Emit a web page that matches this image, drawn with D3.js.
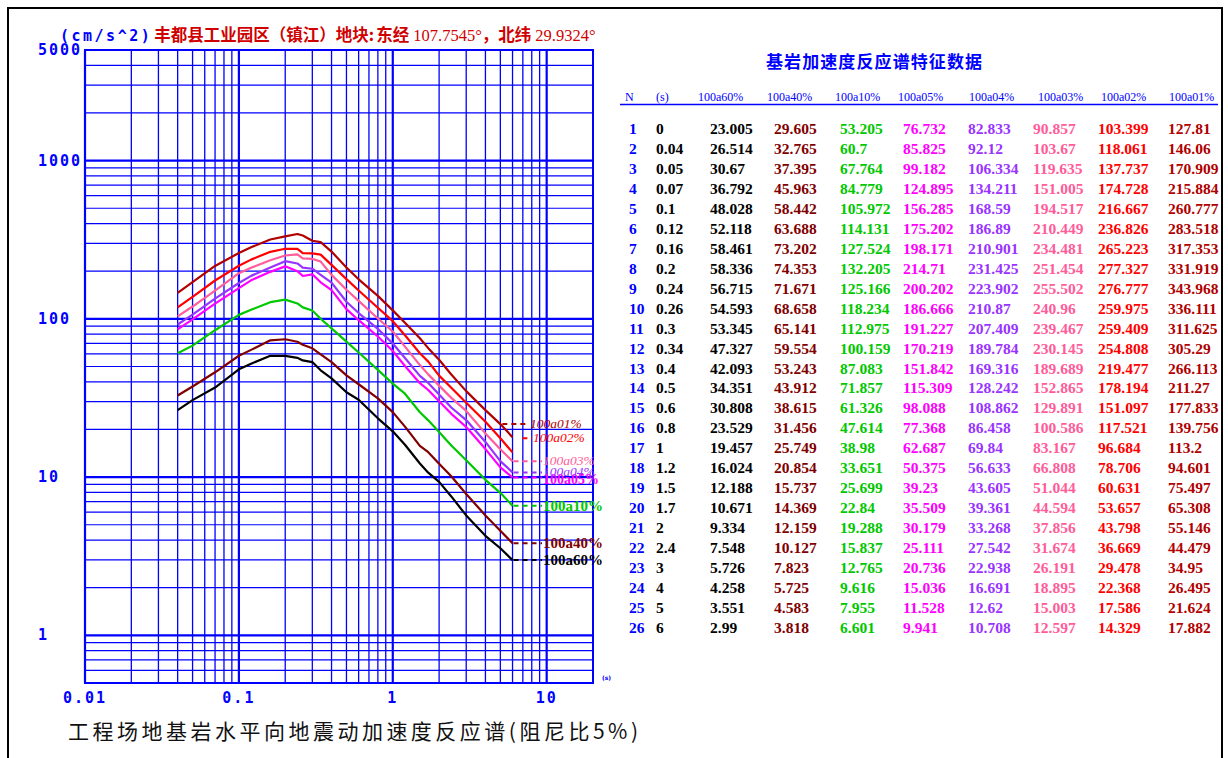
<!DOCTYPE html>
<html><head><meta charset="utf-8">
<script src="https://cdn.jsdelivr.net/npm/d3@7"></script>
<style>body{margin:0;background:#fff}svg{display:block}</style>
</head><body><svg id="c" width="1228" height="758"></svg>
<script>
// ---- data ----
const periodLabels = ["0","0.04","0.05","0.07","0.1","0.12","0.16","0.2","0.24","0.26","0.3","0.34","0.4","0.5","0.6","0.8","1","1.2","1.5","1.7","2","2.4","3","4","5","6"];
const periods = periodLabels.map(Number);
const seriesNames = ["100a60%","100a40%","100a10%","100a05%","100a04%","100a03%","100a02%","100a01%"];
const s60 = [23.005,26.514,30.67,36.792,48.028,52.118,58.461,58.336,56.715,54.593,53.345,47.327,42.093,34.351,30.808,23.529,19.457,16.024,12.188,10.671,9.334,7.548,5.726,4.258,3.551,2.99];
const s40 = [29.605,32.765,37.395,45.963,58.442,63.688,73.202,74.353,71.671,68.658,65.141,59.554,53.243,43.912,38.615,31.456,25.749,20.854,15.737,14.369,12.159,10.127,7.823,5.725,4.583,3.818];
const s10 = [53.205,60.7,67.764,84.779,105.972,114.131,127.524,132.205,125.166,118.234,112.975,100.159,87.083,71.857,61.326,47.614,38.98,33.651,25.699,22.84,19.288,15.837,12.765,9.616,7.955,6.601];
const s05 = [76.732,85.825,99.182,124.895,156.285,175.202,198.171,214.71,200.202,186.666,191.227,170.219,151.842,115.309,98.088,77.368,62.687,50.375,39.23,35.509,30.179,25.111,20.736,15.036,11.528,9.941];
const s04 = [82.833,92.12,106.334,134.211,168.59,186.89,210.901,231.425,223.902,210.87,207.409,189.784,169.316,128.242,108.862,86.458,69.84,56.633,43.605,39.361,33.268,27.542,22.938,16.691,12.62,10.708];
const s03 = [90.857,103.67,119.635,151.005,194.517,210.449,234.481,251.454,255.502,240.96,239.467,230.145,189.689,152.865,129.891,100.586,83.167,66.808,51.044,44.594,37.856,31.674,26.191,18.895,15.003,12.597];
const s02 = [103.399,118.061,137.737,174.728,216.667,236.826,265.223,277.327,276.777,259.975,259.409,254.808,219.477,178.194,151.097,117.521,96.684,78.706,60.631,53.657,43.798,36.669,29.478,22.368,17.586,14.329];
const s01 = [127.81,146.06,170.909,215.884,260.777,283.518,317.353,331.919,343.968,336.111,311.625,305.29,266.113,211.27,177.833,139.756,113.2,94.601,75.497,65.308,55.146,44.479,34.95,26.495,21.624,17.882];
const seriesValues = [s60,s40,s10,s05,s04,s03,s02,s01];
const seriesColors = ["#000000","#800000","#00c800","#ff00ff","#9933ff","#ff5c99","#ff0000","#b00000"];
const yTickLabels = ["5000","1000","100","10","1"];
const xTickLabels = ["0.01","0.1","1","10"];

// ---- layout ----
const svg = d3.select("#c");
svg.append("rect").attr("width",1228).attr("height",758).attr("fill","#fff");
svg.append("rect").attr("x",8).attr("y",8).attr("width",1214).attr("height",770)
  .attr("fill","none").attr("stroke","#000").attr("stroke-width",2);

const x = d3.scaleLog().domain([0.01,20]).range([85,593]);
const y = d3.scaleLog().domain([0.5,5000]).range([683,50]);
const blue = "#0000ff";
const g = svg.append("g");

// grid lines
const xGrid = [];
for (let k=-2;k<=1;k++) for (let m=1;m<=9;m++){ const v=m*Math.pow(10,k); if (v>=0.01 && v<=20) xGrid.push(v); }
xGrid.push(20);
const yGrid = [];
for (let k=-1;k<=3;k++) for (let m=1;m<=9;m++){ const v=m*Math.pow(10,k); if (v>=0.5 && v<=5000) yGrid.push(v); }
const isDecade = v => Math.abs(Math.log10(v)-Math.round(Math.log10(v)))<1e-9;
g.selectAll(".xg").data(xGrid).join("line")
  .attr("x1",d=>x(d)).attr("x2",d=>x(d)).attr("y1",y(5000)).attr("y2",y(0.5))
  .attr("stroke",blue).attr("stroke-width",d=>isDecade(d)?2.2:1.3);
g.selectAll(".yg").data(yGrid).join("line")
  .attr("y1",d=>y(d)).attr("y2",d=>y(d)).attr("x1",x(0.01)).attr("x2",x(20))
  .attr("stroke",blue).attr("stroke-width",d=>isDecade(d)?2.2:1.2);
g.append("rect").attr("x",x(0.01)).attr("y",y(5000)).attr("width",x(20)-x(0.01)).attr("height",y(0.5)-y(5000))
  .attr("fill","none").attr("stroke",blue).attr("stroke-width",2);

// axis labels
g.selectAll(".yl").data(yTickLabels).join("text")
  .attr("x",38).attr("y",d=>y(+d)+5).text(d=>d)
  .attr("font-family","DejaVu Sans Mono").attr("font-weight","bold").attr("font-size",15)
  .attr("letter-spacing",2).attr("fill",blue);
g.selectAll(".xl").data(xTickLabels).join("text")
  .attr("x",d=>x(+d)).attr("y",703).attr("text-anchor","middle").text(d=>d)
  .attr("font-family","DejaVu Sans Mono").attr("font-weight","bold").attr("font-size",15)
  .attr("letter-spacing",2).attr("fill",blue);
g.append("text").attr("x",602).attr("y",680).text("(s)").attr("font-size",6).attr("font-family","DejaVu Sans").attr("font-weight","bold").attr("fill",blue);

// title
const t = svg.append("text").attr("x",60).attr("y",41);
t.append("tspan").text("(cm/s^2)").attr("font-family","DejaVu Sans Mono").attr("font-weight","bold").attr("font-size",15)
  .attr("letter-spacing",2.5).attr("fill",blue);
const red = "#d00000";
const cjk = {"font-family":"Noto Sans CJK SC","font-weight":"bold","font-size":16.5,"fill":red};
const num = {"font-family":"Liberation Serif","font-size":16.5,"fill":red};
const addT = (txt, st, dx) => { const s = t.append("tspan").text(txt); if (dx) s.attr("dx",dx); Object.entries(st).forEach(([k,v])=>s.attr(k,v)); };
addT("丰都县工业园区（镇江）地块:", cjk, 2);
addT("东经", cjk, 2);
addT(" 107.7545°", num);
addT("，北纬", cjk);
addT(" 29.9324°", num);

// bottom title
svg.append("text").attr("x",68).attr("y",739).text("工程场地基岩水平向地震动加速度反应谱(阻尼比5%)")
  .attr("font-family","Noto Sans CJK SC").attr("font-size",21).attr("fill","#111")
  .attr("textLength",570).attr("lengthAdjust","spacing");

// curves
const pts = vals => periods.map((p,i)=>[p,vals[i]]).filter(d=>d[0]>0);
const line = d3.line().x(d=>x(d[0])).y(d=>y(d[1]));
seriesValues.forEach((vals,i)=>{
  g.append("path").attr("d",line(pts(vals))).attr("fill","none")
   .attr("stroke",seriesColors[i]).attr("stroke-width",2.2).attr("stroke-linejoin","round");
});

// series labels with dashed leaders
const lastT = periods[periods.length-1];
seriesValues.forEach((vals,i)=>{
  const small = i>=3;        // upper group: italic small labels
  const top2 = i>=6;         // 100a02%, 100a01% are placed at T=5 level
  const refIdx = top2 ? periods.length-2 : periods.length-1;
  const ly = y(vals[refIdx]);
  const x0 = top2 ? x(periods[refIdx]) + (i===6?22:2) : x(lastT)+1;
  const tx = top2 ? (i===7?530:533) : 543;
  g.append("line").attr("x1",x0).attr("x2",tx-1).attr("y1",ly).attr("y2",ly)
    .attr("stroke",seriesColors[i]).attr("stroke-width",2).attr("stroke-dasharray","5,4");
  const lab = g.append("text").attr("x",tx).attr("y",ly+ (small?4:5)).text(seriesNames[i])
    .attr("font-family","Liberation Serif").attr("fill",seriesColors[i]);
  if (i===3) lab.attr("font-weight","bold").attr("font-size",14).attr("y",ly+6);
  else if (small) lab.attr("font-style","italic").attr("font-size",13.5);
  else lab.attr("font-weight","bold").attr("font-size",15);
});

// ---- table ----
const tb = svg.append("g");
tb.append("text").attr("x",874).attr("y",68).attr("text-anchor","middle").text("基岩加速度反应谱特征数据")
  .attr("font-family","Noto Sans CJK SC").attr("font-weight","bold").attr("font-size",17).attr("fill",blue)
  .attr("textLength",216).attr("lengthAdjust","spacing");
const headers = ["N","(s)"].concat(seriesNames);
const colX = [625,656,698,767,835,898,969,1038,1101,1169];
const dataX = [629,656,710,774,840,903,968,1033,1098,1168];
tb.selectAll(".hd").data(headers).join("text")
  .attr("x",(d,i)=>colX[i]).attr("y",101).text(d=>d)
  .attr("font-family","Liberation Serif").attr("font-size",12).attr("fill",blue);
tb.append("line").attr("x1",620).attr("x2",1218).attr("y1",104.5).attr("y2",104.5).attr("stroke",blue).attr("stroke-width",1.6);

const colColors = ["#0000ff","#000000"].concat(seriesColors);
periods.forEach((p,r)=>{
  const cells = [String(r+1), periodLabels[r]].concat(seriesValues.map(v=>String(v[r])));
  cells.forEach((c,ci)=>{
    tb.append("text").attr("x",dataX[ci]).attr("y",134+r*19.96).text(c)
      .attr("font-family","Liberation Serif").attr("font-weight","bold").attr("font-size",15.5)
      .attr("fill",colColors[ci]);
  });
});
</script></body></html>
